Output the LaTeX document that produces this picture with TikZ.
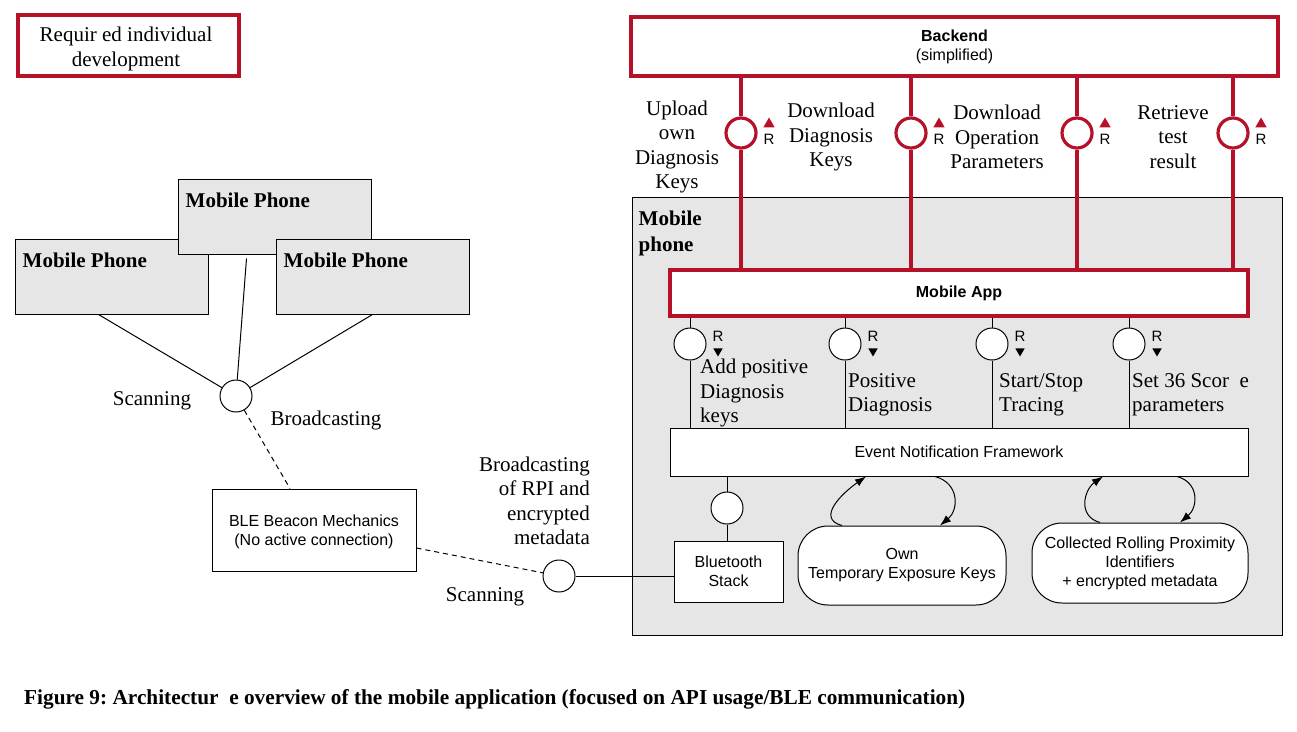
\documentclass[tikz,border=0pt]{standalone}
\usepackage{fontspec}
\setmainfont{Liberation Serif}
\setsansfont{Liberation Sans}
\usetikzlibrary{shapes.geometric, arrows.meta}

\definecolor{dbred}{RGB}{181,18,42}
\definecolor{phgray}{RGB}{230,230,230}
\frenchspacing

\begin{document}
\begin{tikzpicture}[x=1pt, y=-1pt,
	redbox/.style={draw=dbred, line width=3.2pt, fill=white, inner sep=0pt, align=center, font={\sffamily\fontsize{16}{19}\selectfont}},
	blkbox/.style={draw, line width=1pt, fill=white, inner sep=0pt, align=center, font={\sffamily\fontsize{16}{19}\selectfont}},
	store/.style={blkbox, rounded corners=30pt},
	phone/.style={draw, line width=1pt, fill=phgray, inner sep=0pt, minimum width=193pt, minimum height=75pt},
	iface/.style={circle, draw, line width=1pt, fill=white, minimum size=32pt, inner sep=0pt},
	riface/.style={iface, draw=dbred, line width=3.2pt, minimum size=30pt},
	lbl/.style={inner sep=0pt, align=center, font={\fontsize{21}{24.5}\selectfont}},
	blbl/.style={lbl, align=left, font={\bfseries\fontsize{21}{26}\selectfont}},
	rtxt/.style={inner sep=0pt, font={\sffamily\fontsize{15}{15}\selectfont}},
	rtri/.style={regular polygon, regular polygon sides=3, fill=dbred, inner sep=0pt, minimum size=13pt},
	conn/.style={line width=1pt},
	wire/.style={draw=dbred, line width=3.2pt},
	flow/.style={line width=1pt, -{Latex[length=11pt,width=8pt]}},
	air/.style={line width=1pt, dash pattern=on 5pt off 4pt}]
	\useasboundingbox (0,0) rectangle (1297,731);

	\node[redbox, minimum width=221pt, minimum height=61pt] (legend) at (128.5,45.5) {};
	\node[lbl] at (126,49) {Requir ed individual\\development};

	\node[phone] (p1) at (111.5,276.5) {};
	\node[blbl, anchor=north west] at ([xshift=8pt,yshift=-14pt]p1.north west) {Mobile Phone};
	\node[phone] (p2) at (274.5,216.5) {};
	\node[blbl, anchor=north west] at ([xshift=8pt,yshift=-14pt]p2.north west) {Mobile Phone};
	\node[phone] (p3) at (372.5,276.5) {};
	\node[blbl, anchor=north west] at ([xshift=8pt,yshift=-14pt]p3.north west) {Mobile Phone};

	\node[iface] (hub) at (236,396) {};
	\draw[conn] ([xshift=-13pt]p1.south) -- (hub);
	\draw[conn] ([xshift=-28pt,yshift=-4pt]p2.south) -- (hub);
	\draw[conn] (p3.south) -- (hub);
	\node[lbl] at (152,401) {Scanning};
	\node[lbl] at (326,420) {Broadcasting};

	\node[blkbox, minimum width=204pt, minimum height=82pt] (ble) at (314,530) {};
	\node[inner sep=0pt, align=center, font={\sffamily\fontsize{16}{19}\selectfont}] at (314,532) {BLE Beacon Mechanics\\(No active connection)};
	\draw[air] (hub) -- ([xshift=-24pt]ble.north);

	\node[lbl, align=right, anchor=east] at (590,501) {Broadcasting\\of RPI and\\encrypted\\metadata};
	\node[lbl] at (485,597) {Scanning};
	\node[iface] (air) at (559,576) {};
	\draw[air] ([yshift=-18pt]ble.east) -- (air);

	\node[draw, line width=1pt, fill=phgray, minimum width=650pt, minimum height=438pt] (panel) at (957,416) {};
	\node[blbl, anchor=north west] at ([xshift=7pt,yshift=-14pt]panel.north west) {Mobile\\phone};

	\node[redbox, minimum width=647pt, minimum height=59pt] (backend) at (954.5,46.5) {\textbf{Backend}\\(simplified)};
	\node[redbox, minimum width=578pt, minimum height=46pt] (app) at (959,293) {\textbf{Mobile App}};
	\node[blkbox, minimum width=578pt, minimum height=48pt] (enf) at (959,452) {Event Notification Framework};

	\node[riface] (up1) at (741,133) {};
	\node[riface] (up2) at (911,133) {};
	\node[riface] (up3) at (1077,133) {};
	\node[riface] (up4) at (1233,133) {};
	\foreach \i in {1,...,4} {
		\draw[wire] (up\i |- backend.south) -- (up\i) -- (up\i |- app.north);
		\node[rtri] at ([xshift=28pt,yshift=9pt]up\i) {};
		\node[rtxt] at ([xshift=28pt,yshift=-6pt]up\i) {R};
	}
	\node[lbl] at (677,147) {Upload\\own\\Diagnosis\\Keys};
	\node[lbl] at (831,137) {Download\\Diagnosis\\Keys};
	\node[lbl] at (997,137) {Download\\Operation\\Parameters};
	\node[lbl] at (1173,137) {Retrieve\\test\\result};

	\node[iface] (ai1) at (690,344) {};
	\node[iface] (ai2) at (845,344) {};
	\node[iface] (ai3) at (992,344) {};
	\node[iface] (ai4) at (1129,344) {};
	\foreach \i in {1,...,4} {
		\draw[conn] (ai\i |- app.south) -- (ai\i) -- (ai\i |- enf.north);
		\node[rtxt] at ([xshift=28pt,yshift=8pt]ai\i) {R};
		\node[rtri, fill=black, shape border rotate=180, minimum size=11pt] at ([xshift=28pt,yshift=-7pt]ai\i) {};
	}
	\node[lbl, align=left, anchor=west] at (700,393) {Add positive\\Diagnosis\\keys};
	\node[lbl, align=left, anchor=west] at (848,395) {Positive\\Diagnosis};
	\node[lbl, align=left, anchor=west] at (999,395) {Start/Stop\\Tracing};
	\node[lbl, align=left, anchor=west] at (1132,395) {Set 36 Scor\ \ e\\parameters};

	\node[iface] (btc) at (727,508) {};
	\node[blkbox, minimum width=109pt, minimum height=61pt] (bt) at (728.5,571.5) {Bluetooth\\Stack};
	\draw[conn] (btc |- enf.south) -- (btc) -- (btc |- bt.north);
	\draw[conn] (air) -- (air -| bt.west);

	\node[store, minimum width=208pt, minimum height=79pt] (own) at (902,565.5) {Own\\Temporary Exposure Keys};
	\node[store, minimum width=216pt, minimum height=80pt] (coll) at (1140,563) {Collected Rolling Proximity\\Identifiers\\+ encrypted metadata};
	\draw[flow] ([xshift=-60pt]own.north) to[out=165, in=215, looseness=1.3] ([xshift=-93pt]enf.south);
	\draw[flow] ([xshift=-24pt]enf.south) to[out=-15, in=40, looseness=1.3] ([xshift=38pt]own.north);
	\draw[flow] ([xshift=-40pt]coll.north) to[out=165, in=215, looseness=1.3] ([xshift=144pt]enf.south);
	\draw[flow] ([xshift=218pt]enf.south) to[out=-15, in=40, looseness=1.3] ([xshift=40pt]coll.north);

	\node[anchor=west, inner sep=0pt, font={\bfseries\fontsize{21.3}{24}\selectfont}] at (24,699) {Figure 9: Architectur\ \ e overview of the mobile application (focused on API usage/BLE communication)};
\end{tikzpicture}
\end{document}
